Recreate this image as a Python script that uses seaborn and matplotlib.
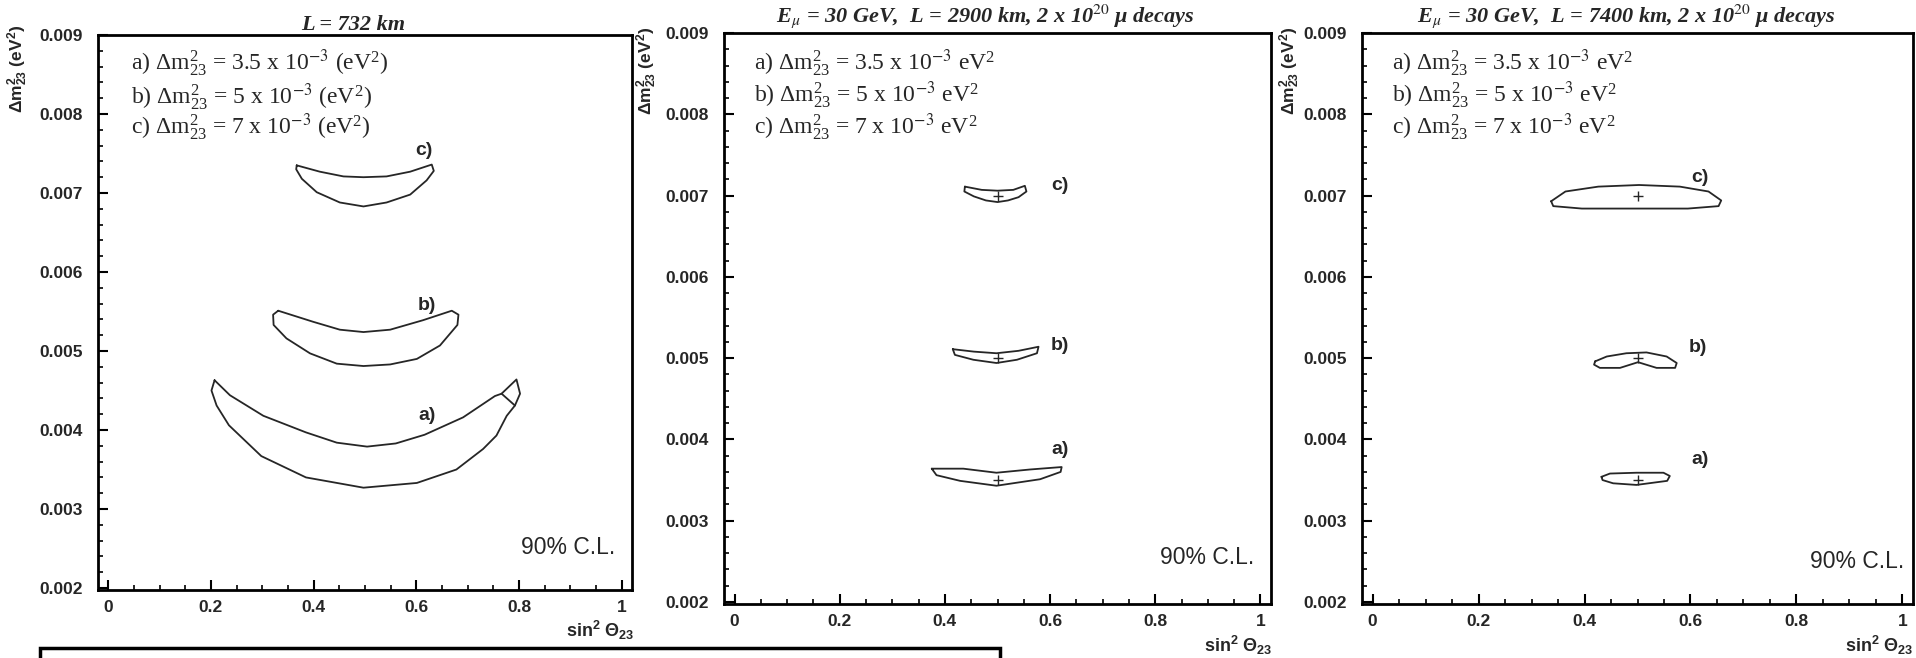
import matplotlib
matplotlib.use("Agg")
import matplotlib.pyplot as plt
from matplotlib.patches import Rectangle
from matplotlib.ticker import FixedLocator, MultipleLocator, FuncFormatter
import numpy as np
import pandas as pd
import seaborn as sns

# ---------------- data ----------------
panel_titles = ["L = 732 km",
                r"E$_{\mu}$ = 30 GeV,  L = 2900 km, 2 x 10$^{20}$ μ decays",
                r"E$_{\mu}$ = 30 GeV,  L = 7400 km, 2 x 10$^{20}$ μ decays"]
dm2_labels = ["3.5", "5", "7"]
contour_names = ["a)", "b)", "c)"]
x_ticks = [0, 0.2, 0.4, 0.6, 0.8, 1.0]
y_ticks = [0.002, 0.003, 0.004, 0.005, 0.006, 0.007, 0.008, 0.009]

# L = 732 km contours
a732_x = [0.207, 0.237, 0.302, 0.385, 0.445, 0.504, 0.560, 0.616, 0.691, 0.753, 0.766,
          0.795, 0.802, 0.792, 0.776, 0.756, 0.730, 0.678, 0.601, 0.497, 0.385, 0.298,
          0.235, 0.211, 0.201]
a732_y = [0.00463, 0.00444, 0.00418, 0.00397, 0.00384, 0.00379, 0.00383, 0.00394, 0.00416,
          0.00443, 0.00446, 0.00464, 0.00446, 0.00431, 0.00418, 0.00393, 0.00376, 0.00350,
          0.00333, 0.00327, 0.00340, 0.00367, 0.00406, 0.00431, 0.00450]
a732_notch_x = [0.766, 0.792]
a732_notch_y = [0.00446, 0.00431]
b732_x = [0.331, 0.399, 0.451, 0.497, 0.549, 0.613, 0.669, 0.682, 0.680, 0.646, 0.601,
          0.549, 0.497, 0.445, 0.393, 0.347, 0.322, 0.321]
b732_y = [0.00551, 0.00537, 0.00527, 0.00524, 0.00527, 0.00539, 0.00551, 0.00546, 0.00533,
          0.00507, 0.00490, 0.00483, 0.00481, 0.00484, 0.00497, 0.00516, 0.00533, 0.00546]
c732_x = [0.367, 0.412, 0.458, 0.497, 0.542, 0.588, 0.630, 0.634, 0.620, 0.588, 0.542,
          0.497, 0.451, 0.406, 0.377, 0.366]
c732_y = [0.00735, 0.00727, 0.00721, 0.00720, 0.00721, 0.00727, 0.00736, 0.00728, 0.00716,
          0.00698, 0.00688, 0.00683, 0.00688, 0.00701, 0.00718, 0.00730]

# L = 2900 km contours
a2900_x = [0.375, 0.435, 0.498, 0.562, 0.622, 0.620, 0.581, 0.498, 0.429, 0.384]
a2900_y = [0.00364, 0.00364, 0.00359, 0.00363, 0.00366, 0.00360, 0.00351, 0.00343, 0.00349, 0.00356]
b2900_x = [0.415, 0.455, 0.498, 0.540, 0.578, 0.575, 0.537, 0.498, 0.454, 0.419]
b2900_y = [0.00511, 0.00508, 0.00506, 0.00509, 0.00514, 0.00506, 0.00498, 0.00494, 0.00498, 0.00504]
c2900_x = [0.438, 0.470, 0.500, 0.530, 0.552, 0.555, 0.540, 0.520, 0.500, 0.478, 0.455, 0.437]
c2900_y = [0.00711, 0.00707, 0.00706, 0.00707, 0.00712, 0.00705, 0.00698, 0.00694, 0.00692,
           0.00694, 0.00699, 0.00705]

# L = 7400 km contours
a7400_x = [0.432, 0.448, 0.498, 0.549, 0.561, 0.556, 0.498, 0.454, 0.434]
a7400_y = [0.00354, 0.00358, 0.00359, 0.00359, 0.00355, 0.00349, 0.00344, 0.00346, 0.00350]
b7400_x = [0.420, 0.442, 0.479, 0.517, 0.555, 0.574, 0.571, 0.536, 0.501, 0.467, 0.429, 0.418]
b7400_y = [0.00496, 0.00502, 0.00506, 0.00507, 0.00502, 0.00494, 0.00488, 0.00488, 0.00495,
           0.00488, 0.00488, 0.00492]
c7400_x = [0.337, 0.364, 0.426, 0.503, 0.580, 0.634, 0.658, 0.653, 0.595, 0.503, 0.395, 0.341]
c7400_y = [0.00693, 0.00705, 0.00711, 0.00713, 0.00711, 0.00705, 0.00694, 0.00687, 0.00684,
           0.00684, 0.00684, 0.00687]

bestfit_x = [0.5, 0.5, 0.5]
bestfit_y = [0.0035, 0.005, 0.007]


def closed_rows(panel, name, xs, ys, close=True):
    xs = list(xs) + ([xs[0]] if close else [])
    ys = list(ys) + ([ys[0]] if close else [])
    return pd.DataFrame({"panel": panel, "contour": name, "order": range(len(xs)),
                         "x": xs, "y": ys})


contours = pd.concat([
    closed_rows(0, "a", a732_x, a732_y),
    closed_rows(0, "a_notch", a732_notch_x, a732_notch_y, close=False),
    closed_rows(0, "b", b732_x, b732_y),
    closed_rows(0, "c", c732_x, c732_y),
    closed_rows(1, "a", a2900_x, a2900_y),
    closed_rows(1, "b", b2900_x, b2900_y),
    closed_rows(1, "c", c2900_x, c2900_y),
    closed_rows(2, "a", a7400_x, a7400_y),
    closed_rows(2, "b", b7400_x, b7400_y),
    closed_rows(2, "c", c7400_x, c7400_y),
], ignore_index=True)

# ---------------- style ----------------
sns.set_theme(style="white")
plt.rcParams["font.family"] = ["Liberation Sans", "DejaVu Sans"]
plt.rcParams["axes.linewidth"] = 2.0

W, H = 1916, 658
fig = plt.figure(figsize=(W / 100, H / 100), dpi=100, facecolor="white")


def fx(px):
    return px / W


def fy(py):
    return 1 - py / H


# axes rectangles in pixels: (left, top, right, bottom)
rects = [(98, 35, 632, 590), (724, 33, 1271, 604), (1362, 33, 1913, 604)]
LINE = "#262626"
SERIF = ["Liberation Serif", "DejaVu Serif"]
SANS = ["Liberation Sans", "DejaVu Sans"]

for i, (l, t, r, b) in enumerate(rects):
    ax = fig.add_axes([fx(l), fy(b), (r - l) / W, (b - t) / H])
    ax.set_facecolor("white")
    sub = contours[contours.panel == i]
    sns.lineplot(data=sub, x="x", y="y", units="contour", estimator=None, sort=False,
                 color=LINE, linewidth=1.3, ax=ax, legend=False)
    if i > 0:
        sns.scatterplot(x=bestfit_x, y=bestfit_y, marker="+", s=55, color=LINE,
                        linewidth=1.0, ax=ax, legend=False)
    ax.set_xlim(-0.02, 1.02)
    ax.set_ylim(0.001975, 0.009)
    ax.set_xlabel("")
    ax.set_ylabel("")
    ax.xaxis.set_major_locator(FixedLocator(x_ticks))
    ax.xaxis.set_minor_locator(MultipleLocator(0.05))
    ax.yaxis.set_major_locator(FixedLocator(y_ticks))
    ax.yaxis.set_minor_locator(MultipleLocator(0.0002))
    ax.xaxis.set_major_formatter(FuncFormatter(lambda v, p: "%g" % round(v, 3)))
    ax.yaxis.set_major_formatter(FuncFormatter(lambda v, p: "%.3f" % v))
    ax.tick_params(axis="both", which="major", direction="in", length=7, width=1.5,
                   color="black", top=False, right=False, bottom=True, left=True)
    ax.tick_params(axis="both", which="minor", direction="in", length=3.5, width=1.2,
                   color="black", top=False, right=False, bottom=True, left=True)
    ax.tick_params(axis="y", which="major", pad=11, labelsize=12.5)
    ax.tick_params(axis="x", which="major", pad=7, labelsize=12.5)
    for lab in ax.get_xticklabels() + ax.get_yticklabels():
        lab.set_fontweight("bold")
        lab.set_family(["Liberation Sans Narrow", "Liberation Sans", "DejaVu Sans"])
    for sp in ax.spines.values():
        sp.set_linewidth(2.0)
        sp.set_color("black")
        sp.set_visible(True)

# ---------------- titles ----------------
title_pos = [(353, 25), (985, 16), (1626, 16)]
for txt, (px, py) in zip(panel_titles, title_pos):
    fig.text(fx(px), fy(py), txt, ha="center", va="center", fontsize=16,
             style="italic", fontweight="bold", family=SERIF, math_fontfamily="stix")

# ---------------- y labels ----------------
for px, py in [(18, 25), (647, 27), (1290, 27)]:
    fig.text(fx(px), fy(py), r"Δm$\mathregular{^{2}_{23}}$ (eV$\mathregular{^{2}}$)",
             rotation=90, ha="center", va="top", fontsize=12.5, fontweight="bold",
             family=SANS)

# ---------------- x labels ----------------
for px, py in [(634, 630), (1272, 645), (1913, 645)]:
    fig.text(fx(px), fy(py), r"sin$\mathregular{^{2}}$ Θ$\mathregular{_{23}}$",
             ha="right", va="center", fontsize=13, fontweight="bold", family=SANS)

# ---------------- in-plot legend text ----------------
legend_x = [131, 754, 1392]
legend_y = [[63, 97, 127], [63, 95, 127], [63, 95, 127]]
for i in range(3):
    unit = " (eV$\\mathregular{^{2}}$)" if i == 0 else " eV$\\mathregular{^{2}}$"
    for j, (nm, val) in enumerate(zip(contour_names, dm2_labels)):
        s = nm + r" Δm$\mathregular{^{2}_{23}}$ = " + val + r" x 10$^{-3}$" + unit
        fig.text(fx(legend_x[i]), fy(legend_y[i][j]), s, ha="left", va="center",
                 fontsize=17, family=SERIF, math_fontfamily="stix")

# ---------------- contour labels ----------------
lab_pos = [[(427, 415), (427, 305), (424, 150)],
           [(1060, 450), (1060, 345), (1060, 185)],
           [(1700, 460), (1698, 347), (1700, 177)]]
for i in range(3):
    for nm, (px, py) in zip(contour_names, lab_pos[i]):
        fig.text(fx(px), fy(py), nm, ha="center", va="center", fontsize=14,
                 fontweight="bold", family=SANS)

# ---------------- CL text ----------------
for px, py in [(568, 548), (1207, 558), (1857, 562)]:
    fig.text(fx(px), fy(py), "90% C.L.", ha="center", va="center", fontsize=16.5,
             family=SANS)

# ---------------- clipped caption box at the bottom ----------------
fig.patches.append(Rectangle((fx(40), fy(700)), fx(960), (700 - 648) / H,
                             transform=fig.transFigure, fill=False, lw=2.5,
                             edgecolor="black", clip_on=False))

fig.savefig("out.png", dpi=100, facecolor="white")
